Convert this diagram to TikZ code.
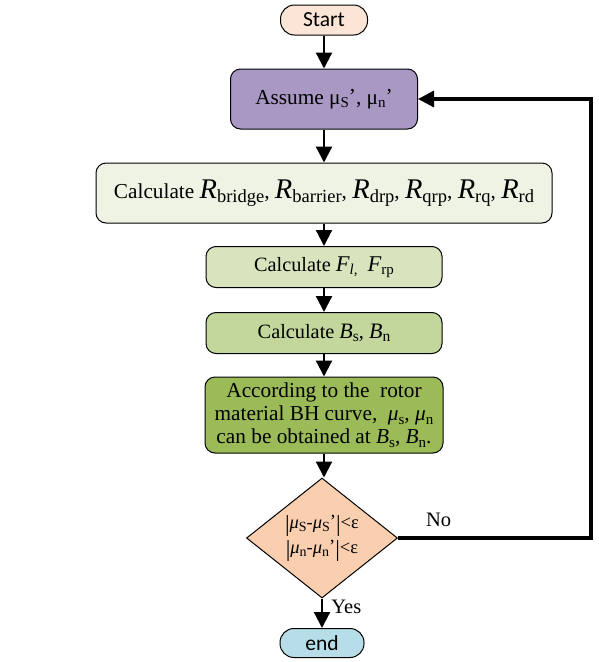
\documentclass[tikz,border=0pt]{standalone}
\usepackage{fontspec}
\setmainfont{Liberation Serif}
\newfontfamily\termfont{Carlito}
\usetikzlibrary{arrows.meta,shapes.geometric,positioning}
\definecolor{cStart}{HTML}{FBE5D6}
\definecolor{cAssume}{HTML}{A898C3}
\definecolor{cRel}{HTML}{EEF3E3}
\definecolor{cForce}{HTML}{D8E4BD}
\definecolor{cFlux}{HTML}{C3D69B}
\definecolor{cCurve}{HTML}{9BBB59}
\definecolor{cTest}{HTML}{F9CFB0}
\definecolor{cEnd}{HTML}{B7DEE8}
\newcommand\lowtext[2]{\raisebox{-0.35ex}{\fontsize{#1}{#1}\selectfont #2}}
\newcommand\bigit[2]{{\fontsize{#1}{#1}\selectfont\itshape #2}}
\newcommand\Rterm[1]{\bigit{28.5}{R}\lowtext{18.5}{#1}}
\newcommand\vbar{\raisebox{-0.3ex}{\fontsize{23}{23}\selectfont|}}
\newcommand\prm{\raisebox{0.1ex}{'}}
\tikzset{
  every picture/.style={line width=1pt},
  sTerm/.style={draw, rounded corners=14pt, inner sep=0pt,
                font=\termfont\fontsize{21.5}{24}\selectfont},
  sBox/.style={draw, rounded corners=10pt, align=center, inner sep=2pt,
               font=\fontsize{21.3}{23}\selectfont},
  sTest/.style={draw, diamond, inner sep=0pt, align=center,
                minimum width=151pt, minimum height=120pt,
                font=\fontsize{18.5}{25}\selectfont},
  sFlow/.style={line width=2.2pt, -{Triangle[length=16pt,width=16pt]}},
  sLoop/.style={sFlow, line width=3.3pt},
  sLabel/.style={font=\fontsize{20.5}{24}\selectfont},
}
\begin{document}
\begin{tikzpicture}[x=1pt,y=-1pt]
  \useasboundingbox (0,0) rectangle (598,662);
  \node[sTerm, fill=cStart, minimum width=87pt, minimum height=30pt] (start) at (324,20) {Start};
  \node[sBox, fill=cAssume, minimum width=187pt, minimum height=60pt] (assume) at (324,99)
    {Assume μ\lowtext{15}{S}\prm, μ\lowtext{15}{n}\prm};
  \node[sBox, fill=cRel, minimum width=456pt, minimum height=60pt] (rel) at (324,193)
    {Calculate \Rterm{bridge}, \Rterm{barrier}, \Rterm{drp}, \Rterm{qrp}, \Rterm{rq}, \Rterm{rd}};
  \node[sBox, fill=cForce, minimum width=236pt, minimum height=41pt] (force) at (324,267)
    {\fontsize{20.3}{22}\selectfont Calculate \bigit{22.5}{F}\lowtext{15}{\itshape l,}\ \ \bigit{22.5}{F}\lowtext{15}{rp}};
  \node[sBox, fill=cFlux, minimum width=236pt, minimum height=41pt] (flux) at (324,333)
    {\fontsize{20.3}{22}\selectfont Calculate \bigit{22}{B}\lowtext{15.5}{s}, \bigit{22}{B}\lowtext{15.5}{n}};
  \node[sBox, fill=cCurve, minimum width=238pt, minimum height=76pt, inner sep=0pt] (curve) at (324,415)
    {According to the\ \ rotor\\
     material BH curve,\ \ \textit{μ}\lowtext{15}{s}, \textit{μ}\lowtext{15}{n}\\
     can be obtained at \textit{B}\lowtext{15}{s}, \textit{B}\lowtext{15}{n}.};
  \node[sTest, fill=cTest] (test) at (322,538)
    {\vbar\textit{μ}\lowtext{14}{S}-\textit{μ}\lowtext{14}{S}\prm\vbar<ε\\
     \vbar\textit{μ}\lowtext{14}{n}-\textit{μ}\lowtext{14}{n}\prm\vbar<ε};
  \node[sTerm, fill=cEnd, minimum width=84pt, minimum height=29pt] (end) at (322,643) {end};
  \coordinate (loopR) at (591,0);
  % main flow
  \draw[sFlow] (start) -- (assume);
  \draw[sFlow] (assume) -- (rel);
  \draw[sFlow] (rel) -- (force);
  \draw[sFlow] (force) -- (flux);
  \draw[sFlow] (flux) -- (curve);
  \draw[sFlow] (curve.south) -- (curve.south |- test.north);
  \draw[sFlow] (test) -- (end) node[pos=0.3, right=5pt, sLabel] {Yes};
  % feedback
  \draw[sLoop] (test.east) -- (test.east -| loopR) node[pos=0.21, above=6pt, sLabel] {No}
    -- (assume.east -| loopR) -- (assume.east);
\end{tikzpicture}
\end{document}
